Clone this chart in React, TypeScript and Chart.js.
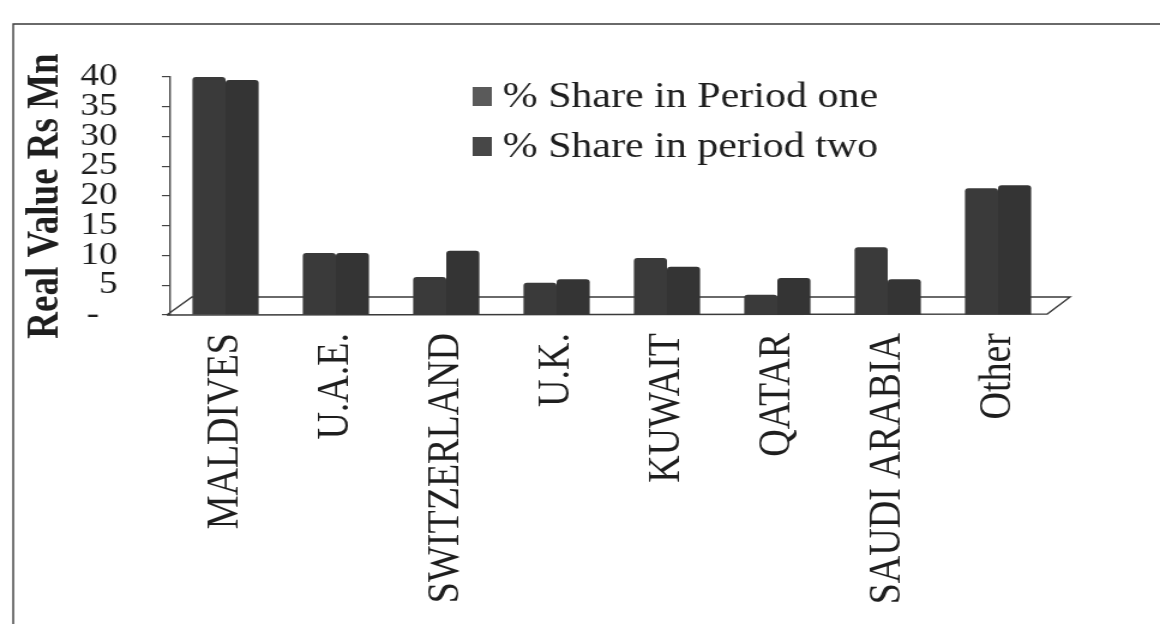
import React, { useEffect, useRef } from "react";
import { Chart, registerables } from "chart.js";

Chart.register(...registerables);

const categories = ["MALDIVES", "U.A.E.", "SWITZERLAND", "U.K.", "KUWAIT", "QATAR", "SAUDI ARABIA", "Other"];
const seriesLabels = ["% Share in Period one", "% Share in period two"];
const periodOne = [40, 10.4, 6.4, 5.4, 9.6, 3.4, 11.4, 21.3];
const periodTwo = [39.5, 10.4, 10.8, 6.0, 8.1, 6.2, 6.0, 21.8];
const yMin = 0;
const yMax = 40;
const yStep = 5;
const yTitle = "Real Value Rs Mn";

const SCREEN_W = 1160;
const SCREEN_H = 624;
const STRETCH = 1.2; // horizontal stretch of the scanned picture
const CANVAS_W = Math.round(SCREEN_W / STRETCH);
const CANVAS_H = SCREEN_H;

const FONT = "'Liberation Serif', 'Times New Roman', serif";
const INK = "#1e1e1e";
const BAR_COLORS = ["#3a3a3a", "#343434"];
const LEGEND_COLORS = ["#5a5a5a", "#474747"];

const decorPlugin = {
  id: "decor",
  beforeDatasetsDraw(chart: any) {
    const { ctx, chartArea, scales } = chart;
    const y0 = scales.y.getPixelForValue(0);
    ctx.save();
    ctx.strokeStyle = "#3a3a3a";
    ctx.lineWidth = 1.4;
    const depthY = 18;
    ctx.beginPath();
    ctx.moveTo(chartArea.left - 3, y0);
    ctx.lineTo(chartArea.left + 18, y0 - depthY);
    ctx.lineTo(chartArea.right + 14, y0 - depthY);
    ctx.lineTo(chartArea.right - 5, y0 - 1);
    ctx.lineTo(chartArea.left - 3, y0);
    ctx.stroke();
    ctx.restore();
  },
  afterDraw(chart: any) {
    const { ctx } = chart;
    ctx.save();
    ctx.strokeStyle = "#3a3a3a";
    ctx.lineWidth = 1.4;
    ctx.beginPath();
    ctx.moveTo(11, CANVAS_H);
    ctx.lineTo(11, 24);
    ctx.lineTo(CANVAS_W, 24);
    ctx.stroke();
    const ds = chart.data.datasets;
    const boxX = 394;
    const textX = 419;
    const baselines = [107, 157];
    ctx.font = `35px ${FONT}`;
    ctx.textBaseline = "alphabetic";
    ctx.textAlign = "left";
    ds.forEach((d: any, i: number) => {
      const b = baselines[i];
      ctx.fillStyle = LEGEND_COLORS[i];
      ctx.fillRect(boxX, b - 20, 16, 19);
      ctx.fillStyle = INK;
      ctx.fillText(d.label, textX, b);
    });
    ctx.restore();
  },
};

export default function App() {
  const ref = useRef<HTMLCanvasElement | null>(null);

  useEffect(() => {
    if (!ref.current) return;
    const chart = new Chart(ref.current, {
      type: "bar",
      data: {
        labels: categories,
        datasets: [
          {
            label: seriesLabels[0],
            data: periodOne,
            backgroundColor: BAR_COLORS[0],
            borderWidth: 0,
            borderRadius: 3,
            categoryPercentage: 0.6,
            barPercentage: 1.0,
          },
          {
            label: seriesLabels[1],
            data: periodTwo,
            backgroundColor: BAR_COLORS[1],
            borderWidth: 0,
            borderRadius: 3,
            categoryPercentage: 0.6,
            barPercentage: 1.0,
          },
        ],
      },
      options: {
        responsive: false,
        maintainAspectRatio: false,
        devicePixelRatio: 1,
        animation: false,
        layout: { padding: { top: 77, right: CANVAS_W - 878, left: 0, bottom: 0 } },
        plugins: {
          legend: { display: false },
          tooltip: { enabled: false },
        },
        scales: {
          x: {
            type: "category",
            offset: true,
            grid: { display: false, drawTicks: false },
            border: { display: false },
            ticks: {
              autoSkip: false,
              minRotation: 90,
              maxRotation: 90,
              padding: 18,
              color: INK,
              font: { family: FONT, size: 38 },
            },
            afterFit(scale: any) {
              scale.height = CANVAS_H - 315;
            },
          },
          y: {
            min: yMin,
            max: yMax,
            grid: {
              drawOnChartArea: false,
              drawTicks: true,
              tickLength: 7,
              color: "#444",
              lineWidth: 1.2,
            },
            border: { display: true, color: "#444", width: 1.4 },
            ticks: {
              stepSize: yStep,
              autoSkip: false,
              padding: 37,
              color: INK,
              font: { family: FONT, size: 31, lineHeight: 0.9 },
              callback: (v: any) => (Number(v) === 0 ? "-  " : String(v)),
            },
            title: {
              display: true,
              text: yTitle,
              color: INK,
              padding: { top: 16, bottom: 0 },
              font: { family: FONT, size: 37, weight: "bold" },
            },
            afterFit(scale: any) {
              scale.width = 142;
            },
          },
        },
      } as any,
      plugins: [decorPlugin],
    });
    return () => chart.destroy();
  }, []);

  return (
    <div
      style={{
        position: "fixed",
        left: 0,
        top: 0,
        width: SCREEN_W + "px",
        height: SCREEN_H + "px",
        background: "#ffffff",
        overflow: "hidden",
      }}
    >
      <canvas
        ref={ref}
        width={CANVAS_W}
        height={CANVAS_H}
        style={{ width: SCREEN_W + "px", height: SCREEN_H + "px", display: "block" }}
      />
    </div>
  );
}
